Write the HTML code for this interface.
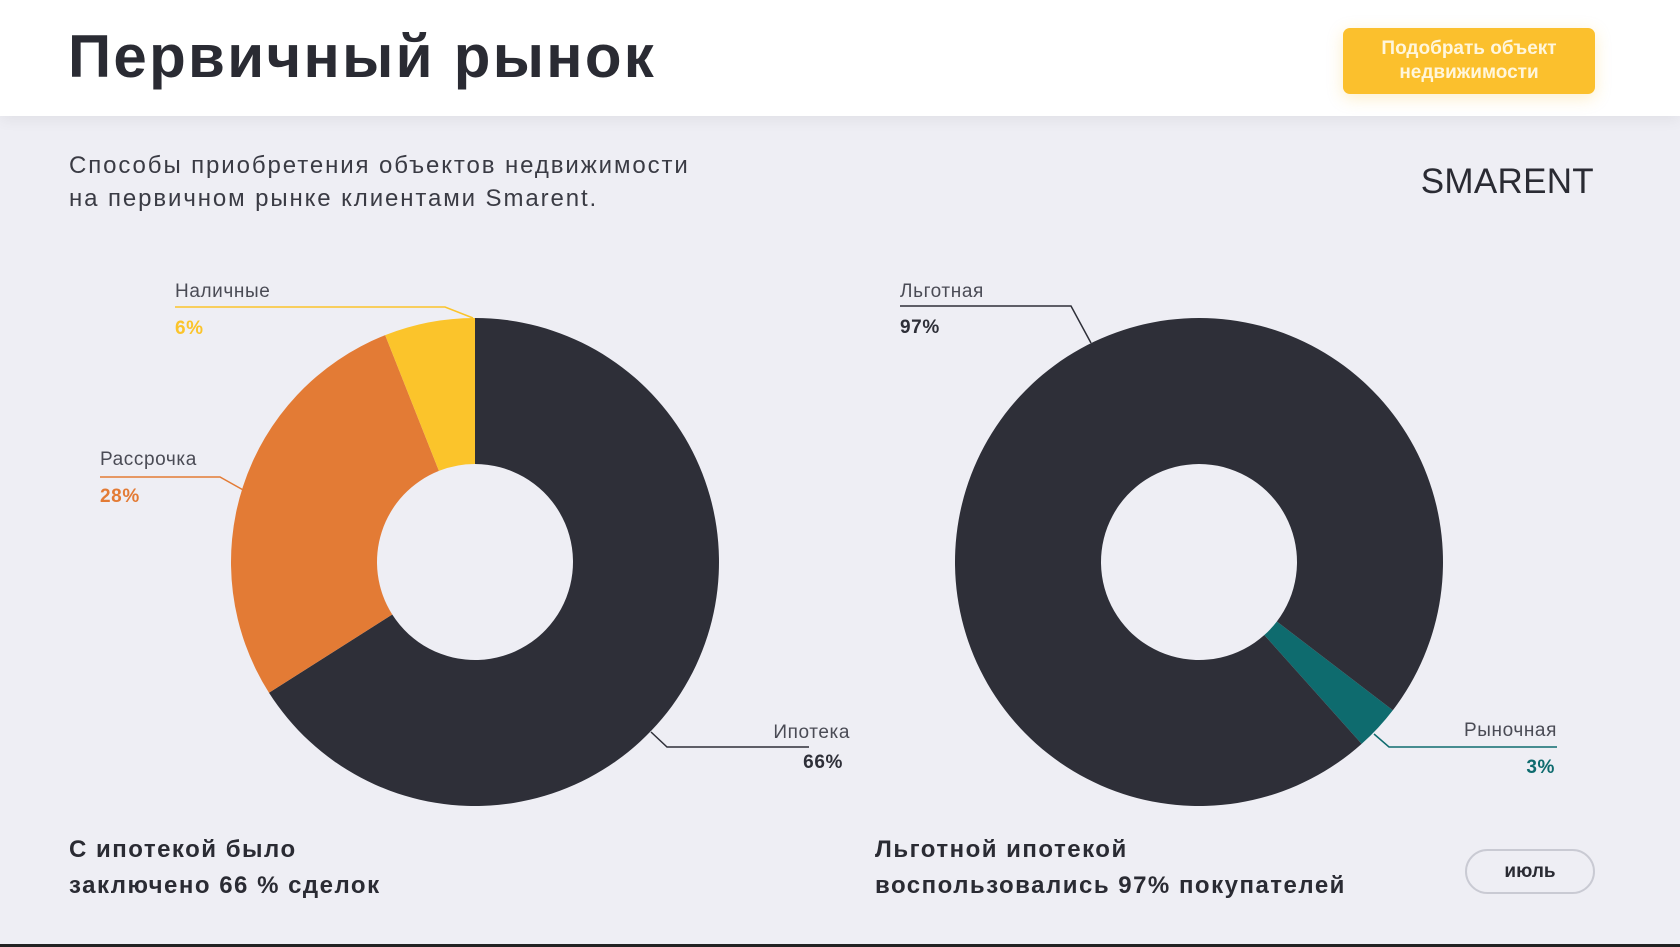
<!DOCTYPE html>
<html><head><meta charset="utf-8">
<style>
html,body{margin:0;padding:0;}
body{width:1680px;height:947px;position:relative;overflow:hidden;background:#eeeef4;font-family:"Liberation Sans","DejaVu Sans",sans-serif;color:#2e2f38;}
#header{position:absolute;left:0;top:0;width:1680px;height:116px;background:#fff;box-shadow:0 4px 14px rgba(0,0,0,0.06);}
#title{position:absolute;left:68px;top:22px;font-size:60px;font-weight:bold;letter-spacing:2.3px;color:#2a2b33;}
#cta{position:absolute;left:1343px;top:28px;width:252px;height:66px;background:#fbc02d;border-radius:7px;color:#fff6dc;font-weight:bold;font-size:19px;text-align:center;line-height:24px;box-sizing:border-box;padding-top:9px;box-shadow:0 4px 16px rgba(251,192,45,0.25);}
#subtitle{position:absolute;left:69px;top:149px;font-size:24px;line-height:33px;color:#3a3b44;letter-spacing:1.9px;}
#logo{position:absolute;right:86px;top:162px;font-size:35px;letter-spacing:0.3px;color:#2a2b33;}
.bt{position:absolute;top:832px;font-size:24px;font-weight:bold;line-height:36px;color:#2a2b33;letter-spacing:1.5px;}
#month{position:absolute;left:1465px;top:849px;width:130px;height:45px;border:2px solid #c9cad3;border-radius:23px;box-sizing:border-box;text-align:center;line-height:41px;font-weight:bold;font-size:19px;color:#2a2b33;}
#bottomline{position:absolute;left:0;top:944px;width:1680px;height:3px;background:#222;}
svg{position:absolute;left:0;top:0;}
</style></head>
<body>
<div id="header"></div>
<div id="title">Первичный рынок</div>
<div id="cta">Подобрать объект<br>недвижимости</div>
<div id="subtitle">Способы приобретения объектов недвижимости<br>на первичном рынке клиентами Smarent.</div>
<div id="logo">SMARENT</div>
<svg id="chart" width="1680" height="947"></svg>
<div class="bt" style="left:69px">С ипотекой было<br>заключено 66 % сделок</div>
<div class="bt" style="left:875px">Льготной ипотекой<br>воспользовались 97% покупателей</div>
<div id="month">июль</div>
<div id="bottomline"></div>
<script>
const leftCategories = ['Ипотека','Рассрочка','Наличные'];
const leftValues = [66, 28, 6];
const leftColors = ['#2e2f38','#e37b35','#fbc42b'];
const rightCategories = ['Рыночная','Льготная'];
const rightValues = [3, 97];
const rightColors = ['#0e6b6e','#2e2f38'];

const NS='http://www.w3.org/2000/svg';
const svg=document.getElementById('chart');
const R=244, r=98;
function pt(cx,cy,rad,deg){const a=deg*Math.PI/180;return [cx+rad*Math.sin(a),cy-rad*Math.cos(a)];}
function drawDonut(cx,cy,vals,cols,cats,start,prefix){
  const total=vals.reduce((a,b)=>a+b,0);
  let ang=start;
  vals.forEach((v,i)=>{
    const sweep=v/total*360;
    const a0=ang,a1=ang+sweep;
    const large=sweep>180?1:0;
    const p0=pt(cx,cy,R,a0),p1=pt(cx,cy,R,a1),q1=pt(cx,cy,r,a1),q0=pt(cx,cy,r,a0);
    const d=`M${p0[0]},${p0[1]} A${R},${R} 0 ${large} 1 ${p1[0]},${p1[1]} L${q1[0]},${q1[1]} A${r},${r} 0 ${large} 0 ${q0[0]},${q0[1]} Z`;
    const path=document.createElementNS(NS,'path');
    path.setAttribute('d',d);path.setAttribute('fill',cols[i]);
    
    
    svg.appendChild(path);
    ang=a1;
  });
}
drawDonut(475,562,leftValues,leftColors,leftCategories,0,'left');
drawDonut(1199,562,rightValues,rightColors,rightCategories,127.4,'right');

function line(pts,color){
  const pl=document.createElementNS(NS,'polyline');
  pl.setAttribute('points',pts);pl.setAttribute('fill','none');pl.setAttribute('stroke',color);pl.setAttribute('stroke-width','1.5');
  
  
  svg.appendChild(pl);
}
function text(x,y,s,color,bold,anchor,name){
  const t=document.createElementNS(NS,'text');
  t.setAttribute('x',x);t.setAttribute('y',y);t.setAttribute('fill',color);
  t.setAttribute('font-size','19');t.setAttribute('font-family','"Liberation Sans", sans-serif');
  t.setAttribute('letter-spacing','0.6');
  if(bold)t.setAttribute('font-weight','bold');
  t.setAttribute('text-anchor',anchor||'start');
  t.textContent=s;
  
  
  svg.appendChild(t);
}
line('175,307 445,307 473,318','#fbc42b');
text(175,297,leftCategories[2],'#4a4b55',false,'start','label-cash');
text(175,334,leftValues[2]+'%','#fbc42b',true,'start','value-cash');
line('100,477 220,477 245,491','#e37b35');
text(100,465,leftCategories[1],'#4a4b55',false,'start','label-installment');
text(100,502,leftValues[1]+'%','#e37b35',true,'start','value-installment');
line('651,732 667,747 809,747','#2e2f38');
text(850,738,leftCategories[0],'#4a4b55',false,'end','label-mortgage');
text(843,768,leftValues[0]+'%','#2e2f38',true,'end','value-mortgage');
line('900,306 1071,306 1091,343','#2e2f38');
text(900,297,rightCategories[1],'#4a4b55',false,'start','label-subsidized');
text(900,333,rightValues[1]+'%','#2e2f38',true,'start','value-subsidized');
line('1374,734 1389,747 1557,747','#0e6b6e');
text(1557,736,rightCategories[0],'#4a4b55',false,'end','label-market');
text(1555,773,rightValues[0]+'%','#0e6b6e',true,'end','value-market');
</script>
</body></html>
